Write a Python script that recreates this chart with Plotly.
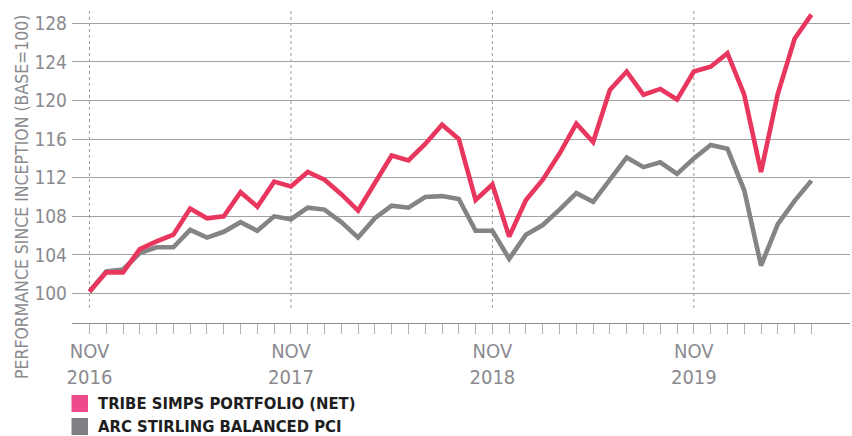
import plotly.graph_objects as go

# ---- data (monthly, Nov 2016 -> Jun 2020) ----
tribe = [100.2, 102.2, 102.2, 104.6, 105.4, 106.1, 108.8, 107.8, 108.0, 110.5,
         109.0, 111.6, 111.1, 112.6, 111.8, 110.3, 108.6, 111.5, 114.3, 113.8,
         115.5, 117.5, 116.0, 109.7, 111.3, 105.9, 109.7, 111.8, 114.5, 117.6,
         115.7, 121.1, 123.0, 120.6, 121.2, 120.1, 123.0, 123.5, 124.9, 120.6,
         112.6, 120.7, 126.4, 128.9]
arc = [100.2, 102.3, 102.5, 104.2, 104.8, 104.8, 106.6, 105.8, 106.4, 107.4,
       106.5, 108.0, 107.7, 108.9, 108.7, 107.4, 105.8, 107.8, 109.1, 108.9,
       110.0, 110.1, 109.8, 106.5, 106.5, 103.6, 106.1, 107.1, 108.7, 110.4,
       109.5, 111.9, 114.1, 113.1, 113.6, 112.4, 114.0, 115.4, 115.0, 110.7,
       102.9, 107.2, 109.6, 111.7]
series_names = ["TRIBE SIMPS PORTFOLIO (NET)", "ARC STIRLING BALANCED PCI"]
year_label_idx = [0, 12, 24, 36]
year_labels = ["NOV<br>2016", "NOV<br>2017", "NOV<br>2018", "NOV<br>2019"]
y_ticks = [100, 104, 108, 112, 116, 120, 124, 128]
y_title = "PERFORMANCE SINCE INCEPTION (BASE=100)"

months = list(range(len(tribe)))

RED = "#e8365f"
GREY = "#848484"
LEG_PINK = "#ee4b8c"
LEG_GREY = "#7f7f83"
TXT = "#8a8a8f"
FONT = "DejaVu Sans Condensed, Liberation Sans Narrow, Roboto Condensed, Arial Narrow, sans-serif"

W, H = 852, 436
L, R, T, B = 72, 2, 4, 113
pw, ph = W - L - R, H - T - B


def px_x(x):
    return (x - L) / pw


def px_y(y):
    return (H - B - y) / ph


fig = go.Figure()
fig.add_trace(go.Scatter(x=months, y=arc, mode="lines", name=series_names[1],
                         line=dict(color=GREY, width=4.6), showlegend=False))
fig.add_trace(go.Scatter(x=months, y=tribe, mode="lines", name=series_names[0],
                         line=dict(color=RED, width=4.6), showlegend=False))

ticktext = [""] * len(months)
for i, t in zip(year_label_idx, year_labels):
    ticktext[i] = t

shapes = []
for i in year_label_idx:
    shapes.append(dict(type="line", xref="x", yref="y", x0=i, x1=i, y0=98.5, y1=129.6,
                       line=dict(color="#9a9a9a", width=1, dash="dot"), layer="below"))

# legend swatches
leg_rows = [(395, 412, LEG_PINK, 403.5), (418, 435, LEG_GREY, 426)]
annotations = []
for (y0, y1, col, yc), name in zip(leg_rows, series_names):
    shapes.append(dict(type="rect", xref="paper", yref="paper",
                       x0=px_x(71.5), x1=px_x(88), y0=px_y(y1), y1=px_y(y0),
                       fillcolor=col, line=dict(width=0)))
    annotations.append(dict(text=name, xref="paper", yref="paper", x=px_x(96), y=px_y(yc),
                            xanchor="left", yanchor="middle", showarrow=False,
                            font=dict(family=FONT, size=16.5, color="#1e1e1e", weight="bold")))

annotations.append(dict(text=y_title, xref="paper", yref="paper", x=px_x(22), y=px_y(197),
                        textangle=-90, xanchor="center", yanchor="middle", showarrow=False,
                        font=dict(family=FONT, size=17.5, color=TXT)))

fig.update_layout(
    width=W, height=H,
    margin=dict(l=L, r=R, t=T, b=B),
    paper_bgcolor="white", plot_bgcolor="white",
    font=dict(family=FONT, color=TXT),
    shapes=shapes, annotations=annotations,
    xaxis=dict(range=[-1.04, 45.3], tickmode="array", tickvals=months, ticktext=ticktext,
               ticks="outside", ticklen=10, tickcolor="#b0b0b0", tickwidth=1,
               showgrid=False, zeroline=False, showline=True, linecolor="#909090", linewidth=1,
               tickfont=dict(family=FONT, size=20, color=TXT), tickangle=0, automargin=False),
    yaxis=dict(range=[96.95, 130], tickmode="array", tickvals=y_ticks,
               showgrid=True, gridcolor="#a2a2a2", gridwidth=1, zeroline=False,
               showline=False, ticks="", ticklabelstandoff=4, automargin=False,
               tickfont=dict(family=FONT, size=19, color=TXT)),
)

fig.write_html("out.html", config={"displayModeBar": False},
               post_script="document.body.style.margin='0';document.body.style.overflow='hidden';")
